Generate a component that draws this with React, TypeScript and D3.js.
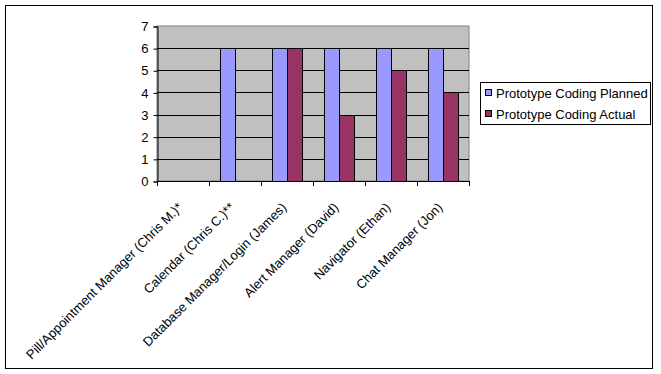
import React, { useEffect, useRef } from 'react';
import * as d3 from 'd3';

const categories = [
  'Pill/Appointment Manager (Chris M.)*',
  'Calendar (Chris C.)**',
  'Database Manager/Login (James)',
  'Alert Manager (David)',
  'Navigator (Ethan)',
  'Chat Manager (Jon)',
];
const plannedValues = [0, 6, 6, 6, 6, 6];
const actualValues = [0, 0, 6, 3, 5, 4];
const seriesNames = ['Prototype Coding Planned', 'Prototype Coding Actual'];
const seriesColors = ['#9999FF', '#993366'];
const yTicks = [0, 1, 2, 3, 4, 5, 6, 7];

const W = 661;
const H = 374;
const plot = { left: 157, top: 26, right: 469, bottom: 181 };
const FONT = 'Liberation Sans, Arial, sans-serif';

export default function App() {
  const ref = useRef<SVGSVGElement>(null);

  useEffect(() => {
    const svg = d3.select(ref.current);
    svg.selectAll('*').remove();

    svg.append('rect')
      .attr('width', W).attr('height', H).attr('fill', '#fff');
    svg.append('rect')
      .attr('x', 5.5).attr('y', 5.5).attr('width', 647).attr('height', 363)
      .attr('fill', 'none').attr('stroke', '#000');

    const x = d3.scaleBand<string>()
      .domain(categories)
      .range([plot.left, plot.right]);
    const y = d3.scaleLinear().domain([0, 7]).range([plot.bottom, plot.top]);

    svg.append('rect')
      .attr('x', plot.left).attr('y', plot.top)
      .attr('width', plot.right - plot.left).attr('height', plot.bottom - plot.top)
      .attr('fill', '#C0C0C0').attr('stroke', '#808080');

    // gridlines
    svg.append('g').selectAll('line')
      .data(yTicks.filter((t) => t > 0 && t < 7))
      .join('line')
      .attr('x1', plot.left).attr('x2', plot.right)
      .attr('y1', (d) => Math.round(y(d)) + 0.5).attr('y2', (d) => Math.round(y(d)) + 0.5)
      .attr('stroke', '#000');

    // bars
    const barW = 15;
    const pad = 11;
    const series = [plannedValues, actualValues];
    series.forEach((vals, si) => {
      svg.append('g').selectAll('rect')
        .data(vals.map((v, i) => ({ v, c: categories[i] })).filter((d) => d.v > 0))
        .join('rect')
        .attr('x', (d) => Math.round(x(d.c)! + pad + si * barW) + 0.5)
        .attr('y', (d) => Math.round(y(d.v)) + 0.5)
        .attr('width', barW)
        .attr('height', (d) => Math.round(y(0)) - Math.round(y(d.v)))
        .attr('fill', seriesColors[si])
        .attr('stroke', '#000');
    });

    // y axis
    const yAxis = d3.axisLeft(y).tickValues(yTicks).tickFormat(d3.format('d')).tickSize(4).tickPadding(5);
    const gy = svg.append('g')
      .attr('transform', `translate(${plot.left + 0.5},0.5)`)
      .call(yAxis);
    gy.select('.domain').attr('stroke', '#000');
    gy.selectAll('text')
      .attr('font-family', FONT)
      .attr('font-size', 13).attr('fill', '#000');

    // x axis
    svg.append('line')
      .attr('x1', plot.left).attr('x2', plot.right)
      .attr('y1', plot.bottom + 0.5).attr('y2', plot.bottom + 0.5)
      .attr('stroke', '#000');
    const edges = categories.map((c) => x(c)!).concat([plot.right]);
    svg.append('g').selectAll('line')
      .data(edges)
      .join('line')
      .attr('x1', (d) => Math.round(d) + 0.5).attr('x2', (d) => Math.round(d) + 0.5)
      .attr('y1', plot.bottom).attr('y2', plot.bottom + 5)
      .attr('stroke', '#000');

    svg.append('g').selectAll('text')
      .data(categories)
      .join('text')
      .attr('transform', (d) => `translate(${x(d)! + x.bandwidth() / 2 - 3},${plot.bottom + 24}) rotate(-45)`)
      .attr('text-anchor', 'end')
      .attr('dy', '0.35em')
      .attr('font-family', FONT)
      .attr('font-size', 13)
      .attr('fill', '#000')
      .text((d) => d);

    // legend
    const lg = svg.append('g');
    lg.append('rect')
      .attr('x', 480.5).attr('y', 82.5).attr('width', 170).attr('height', 42)
      .attr('fill', '#fff').attr('stroke', '#000');
    seriesNames.forEach((name, i) => {
      const cy = 93 + i * 21;
      lg.append('rect')
        .attr('x', 485.5).attr('y', cy - 3.5).attr('width', 6).attr('height', 6)
        .attr('fill', seriesColors[i]).attr('stroke', '#000');
      lg.append('text')
        .attr('x', 496).attr('y', cy).attr('dy', '0.35em')
        .attr('font-family', FONT)
        .attr('font-size', 13).attr('fill', '#000')
        .text(name);
    });
  }, []);

  return (
    <svg ref={ref} width={W} height={H}
      style={{ position: 'absolute', left: 0, top: 0, display: 'block' }} />
  );
}
